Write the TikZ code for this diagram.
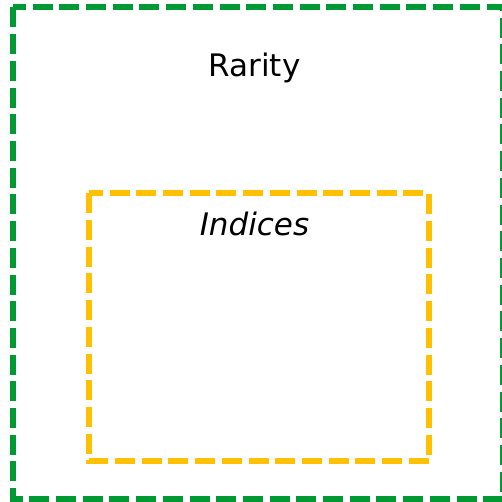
\documentclass[tikz,border=0pt]{standalone}
\usepackage{fontspec}
\setmainfont{DejaVu Sans}
\usepackage{tikz}
\definecolor{rimgreen}{RGB}{0,153,51}
\definecolor{rimyellow}{RGB}{255,192,0}

\begin{document}
\begin{tikzpicture}[x=1pt,y=-1pt,
  outerbox/.style={draw=rimgreen,line width=6pt,dash pattern=on 20pt off 6.7pt},
  innerbox/.style={draw=rimyellow,line width=6pt,dash pattern=on 20pt off 6.7pt},
  label/.style={anchor=base,inner sep=0pt,font=\fontsize{31}{37}\selectfont}]
  \useasboundingbox (0,0) rectangle (502,502);
  \draw[outerbox] ( 13.0,  7.5) rectangle (503.0,498.5);
  \draw[innerbox] ( 89.0,193.3) rectangle (429.0,461.0);
  \node[label] (rarity)  at (254.5, 77) {Rarity};
  \node[label] (indices) at (254.5,235) {\itshape Indices};
\end{tikzpicture}
\end{document}
